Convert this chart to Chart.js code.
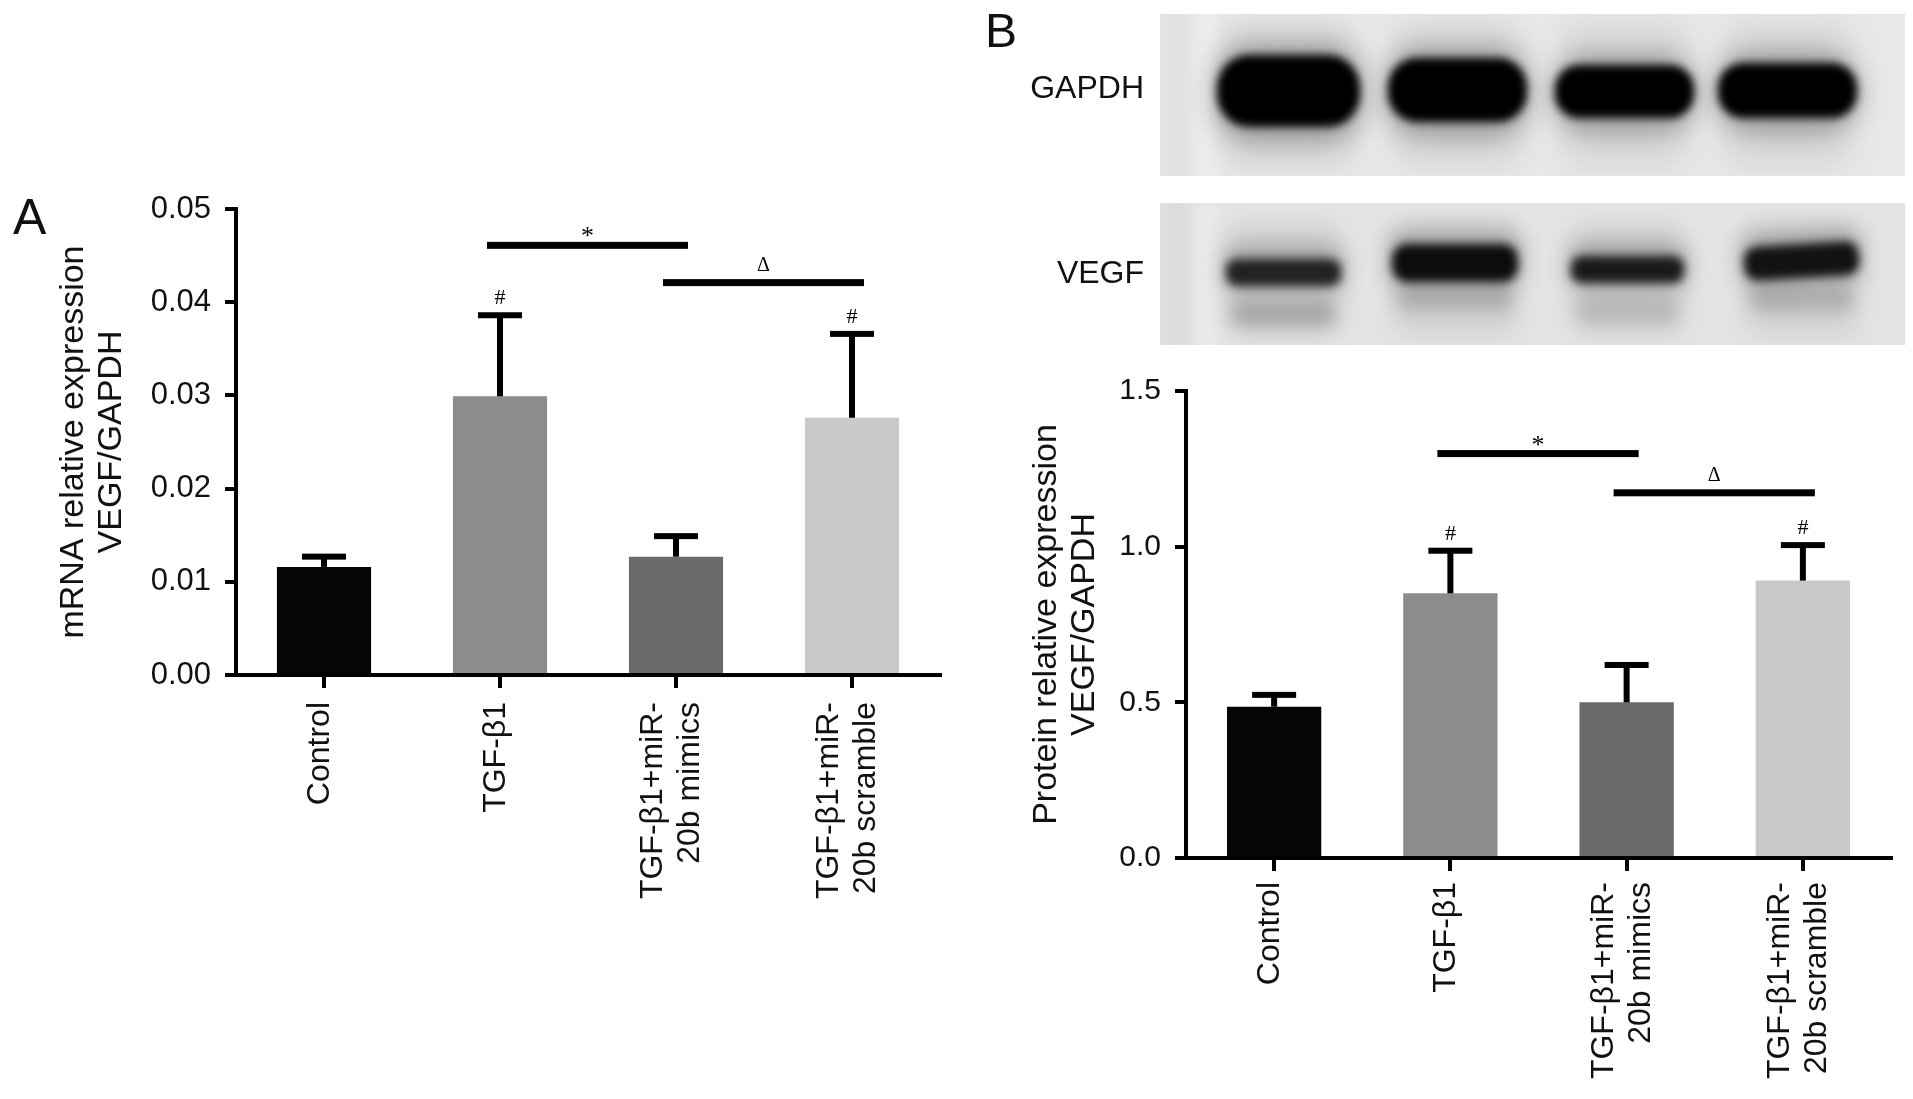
<!DOCTYPE html>
<html>
<head>
<meta charset="utf-8">
<script src="https://cdn.jsdelivr.net/npm/chart.js@4.4.1/dist/chart.umd.min.js"></script>
<style>
    html, body { margin: 0; padding: 0; background: #fff; }
    body { width: 1913px; height: 1099px; position: relative; overflow: hidden; font-family: 'Liberation Sans', Arial, sans-serif; color: #111; }
    canvas { position: absolute; }
    .tag { position: absolute; line-height: 1; white-space: nowrap; }
</style>
</head>
<body>
<canvas id="blot" width="1913" height="360" style="left:0;top:0"></canvas>
<canvas id="chart-a" width="960" height="1099" style="left:0;top:0"></canvas>
<canvas id="chart-b" width="953" height="799" style="left:960px;top:300px"></canvas>
<div class="tag" style="left:13px;top:192px;font-size:50px">A</div>
<div class="tag" style="left:985px;top:7px;font-size:48px">B</div>
<div class="tag" style="right:769px;top:71px;font-size:32px">GAPDH</div>
<div class="tag" style="right:769px;top:256px;font-size:32px">VEGF</div>
<script>
// groups on the x axis (both panels)
const categories = [['Control'], ['TGF-β1'], ['TGF-β1+miR-', '20b mimics'], ['TGF-β1+miR-', '20b scramble']];
const barColors = ['#050505', '#8c8c8c', '#6a6a6a', '#c9c9c9'];

// A: mRNA relative expression
const mrnaMean = [0.0116, 0.0299, 0.0127, 0.0276];
const mrnaSd = [0.0011, 0.0087, 0.0022, 0.0090];
const mrnaTicks = [0, 0.01, 0.02, 0.03, 0.04, 0.05];
const mrnaSig = [
    { from: 1, to: 2, y: 0.0461, text: '*' },
    { from: 2, to: 3, y: 0.0421, text: 'Δ' },
];
const mrnaHash = [1, 3];

// B: protein relative expression
const protMean = [0.486, 0.850, 0.500, 0.891];
const protSd = [0.038, 0.137, 0.120, 0.114];
const protTicks = [0, 0.5, 1.0, 1.5];
const protSig = [
    { from: 1, to: 2, y: 1.299, text: '*' },
    { from: 2, to: 3, y: 1.173, text: 'Δ' },
];
const protHash = [1, 3];

const SANS = "'Liberation Sans', Arial, sans-serif";
const SERIF = "'Liberation Serif', 'Times New Roman', serif";
Chart.defaults.font.family = SANS;

// error bars, significance bars and the rotated group labels
function extras(sd, sig, hash, labelGap) {
    return {
        id: 'extras',
        afterDatasetsDraw(chart) {
            const { ctx } = chart;
            const { x, y } = chart.scales;
            const mean = chart.data.datasets[0].data;
            ctx.save();
            ctx.fillStyle = '#000';
            ctx.textAlign = 'center';
            ctx.textBaseline = 'alphabetic';
            chart.getDatasetMeta(0).data.forEach((bar, i) => {
                const top = y.getPixelForValue(mean[i] + sd[i]);
                ctx.fillRect(bar.x - 3, top, 6, bar.y - top);
                ctx.fillRect(bar.x - 22, top - 3, 44, 6);
                if (hash.includes(i)) {
                    ctx.font = '22px ' + SERIF;
                    ctx.fillText('#', bar.x, top - 11);
                }
            });
            sig.forEach((s) => {
                const yy = y.getPixelForValue(s.y);
                const x1 = x.getPixelForValue(s.from) - 13;
                const x2 = x.getPixelForValue(s.to) + 12;
                ctx.fillRect(x1, yy - 3.5, x2 - x1, 7);
                const star = s.text === '*';
                ctx.font = (star ? '26px ' : '20px ') + SERIF;
                ctx.fillText(s.text, (x1 + x2) / 2, yy - (star ? 1 : 12));
            });
            ctx.restore();
        },
        afterDraw(chart) {
            const { ctx } = chart;
            const xs = chart.scales.x;
            ctx.save();
            ctx.fillStyle = '#111';
            ctx.font = '32px ' + SANS;
            ctx.textAlign = 'right';
            ctx.textBaseline = 'middle';
            chart.data.labels.forEach((lines, i) => {
                const cx = xs.getPixelForTick(i) - 4;
                lines.forEach((line, k) => {
                    ctx.save();
                    ctx.translate(cx + (k - (lines.length - 1) / 2) * 37, xs.top + labelGap);
                    ctx.rotate(-Math.PI / 2);
                    ctx.fillText(line, 0, 0);
                    ctx.restore();
                });
            });
            ctx.restore();
        },
    };
}

function makeChart(id, mean, sd, sig, hash, ticks, digits, title, box) {
    return new Chart(document.getElementById(id), {
        type: 'bar',
        data: {
            labels: categories,
            datasets: [{ data: mean, backgroundColor: barColors, barPercentage: 0.535, categoryPercentage: 1 }],
        },
        options: {
            responsive: false,
            animation: false,
            layout: { padding: { top: box.top, right: box.right, bottom: 0, left: 0 } },
            plugins: { legend: { display: false }, tooltip: { enabled: false } },
            scales: {
                x: {
                    ticks: { display: false },
                    grid: { drawOnChartArea: false, offset: false, tickLength: 13, lineWidth: 4, color: '#000' },
                    border: { display: true, width: 4, color: '#000' },
                    afterFit: (s) => { s.height = box.xHeight; },
                },
                y: {
                    min: 0,
                    max: ticks[ticks.length - 1],
                    afterBuildTicks: (s) => { s.ticks = ticks.map((v) => ({ value: v })); },
                    ticks: {
                        padding: 14,
                        color: '#111',
                        font: { size: box.tickSize },
                        callback: (v) => Number(v).toFixed(digits),
                    },
                    grid: { drawOnChartArea: false, tickLength: 11, lineWidth: 4, color: '#000' },
                    border: { display: true, width: 4, color: '#000' },
                    title: {
                        display: true,
                        text: title,
                        color: '#111',
                        font: { size: 34, lineHeight: 1.12 },
                        padding: { top: box.titlePad, bottom: 0 },
                    },
                    afterFit: (s) => { s.width = box.axisWidth; },
                },
            },
        },
        plugins: [extras(sd, sig, hash, box.labelGap)],
    });
}

makeChart('chart-a', mrnaMean, mrnaSd, mrnaSig, mrnaHash, mrnaTicks, 2,
    ['mRNA relative expression', 'VEGF/GAPDH'],
    { top: 209, right: 20, xHeight: 424, axisWidth: 236, titlePad: 55, tickSize: 31, labelGap: 27 });

makeChart('chart-b', protMean, protSd, protSig, protHash, protTicks, 1,
    ['Protein relative expression', 'VEGF/GAPDH'],
    { top: 91, right: 22, xHeight: 241, axisWidth: 226, titlePad: 68, tickSize: 30, labelGap: 24 });

// western blot strips (picture, not data)
function blob(c, x, y, w, h, r, blur, color, angle) {
    c.save();
    c.filter = 'blur(' + blur + 'px)';
    c.fillStyle = color;
    c.translate(x + w / 2, y + h / 2);
    if (angle) c.rotate(angle);
    c.beginPath();
    c.roundRect(-w / 2, -h / 2, w, h, r);
    c.fill();
    c.restore();
}

function membrane(c, x, y, w, h, bg, draw) {
    c.save();
    c.beginPath();
    c.rect(x, y, w, h);
    c.clip();
    c.fillStyle = bg;
    c.fillRect(x, y, w, h);
    blob(c, x, y - 10, 30, h + 20, 0, 8, 'rgba(0,0,0,0.03)');
    blob(c, x + 36, y - 10, 20, h + 20, 0, 9, 'rgba(255,255,255,0.3)');
    draw();
    c.restore();
}

function drawBlot() {
    const c = document.getElementById('blot').getContext('2d');
    const gapdh = [[1217, 55, 143, 72], [1388, 58, 139, 64], [1555, 65, 139, 53], [1718, 63, 139, 55]];
    membrane(c, 1160, 14, 745, 162, '#e8e8e8', () => {
        gapdh.forEach(([x, y, w, h]) => {
            blob(c, x + 5, 20, w - 10, 150, 20, 14, 'rgba(0,0,0,0.06)');
            blob(c, x - 4, y - 12, w + 8, h + 28, 40, 12, 'rgba(0,0,0,0.28)');
            blob(c, x, y, w, h, h / 2.2, 4, '#000');
        });
    });
    const vegf = [
        [1226, 259, 115, 27, '#222', 0, 0.2],
        [1392, 244, 126, 38, '#0c0c0c', 0, 0.15],
        [1571, 256, 113, 27, '#1a1a1a', 0, 0.12],
        [1744, 244, 115, 34, '#121212', -0.06, 0.16],
    ];
    membrane(c, 1160, 203, 745, 142, '#e4e4e4', () => {
        vegf.forEach(([x, y, w, h, col, ang, faint]) => {
            blob(c, x, 222, w, 115, 16, 12, 'rgba(0,0,0,0.07)');
            blob(c, x + 4, y + 42, w - 8, 26, 12, 8, 'rgba(0,0,0,' + faint + ')');
            blob(c, x - 4, y - 14, w + 8, h + 22, 18, 10, 'rgba(0,0,0,0.22)', ang);
            blob(c, x, y, w, h, h / 2.5, 5, col, ang);
        });
    });
}
drawBlot();
</script>
</body>
</html>
